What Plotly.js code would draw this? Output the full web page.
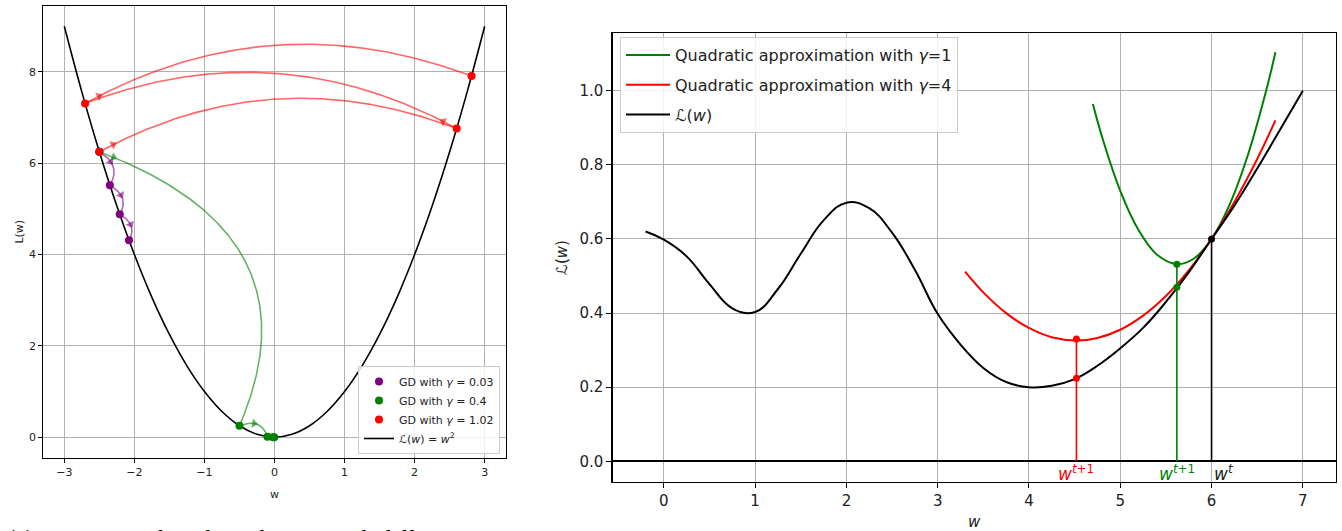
<!DOCTYPE html>
<html>
<head>
<meta charset="utf-8">
<script src="https://cdn.plot.ly/plotly-3.0.1.min.js"></script>
<style>
html,body{margin:0;padding:0;background:#fff;}
#chart{width:1342px;height:531px;}
</style>
</head>
<body>
<div id="chart"></div>
<script>
// ===================== DATA =====================
// Left panel: L(w) = w^2 curve
const parabolaW = [-3,-2.75,-2.5,-2.25,-2,-1.75,-1.5,-1.25,-1,-0.75,-0.5,-0.25,0,0.25,0.5,0.75,1,1.25,1.5,1.75,2,2.25,2.5,2.75,3];
const parabolaL = [9,7.5625,6.25,5.0625,4,3.0625,2.25,1.5625,1,0.5625,0.25,0.0625,0,0.0625,0.25,0.5625,1,1.5625,2.25,3.0625,4,5.0625,6.25,7.5625,9];

// Gradient-descent iterates
const gdSmallW = [-2.5,-2.35,-2.209,-2.077];
const gdSmallL = [6.25,5.52,4.88,4.31];
const gdMidW   = [-2.5,-0.5,-0.1,-0.02,-0.004];
const gdMidL   = [6.25,0.25,0.01,0.0004,0.00002];
const gdBigW   = [-2.5,2.6,-2.704,2.812];
const gdBigL   = [6.25,6.76,7.31,7.91];
const gdNames  = ['GD with <i>γ</i> = 0.03','GD with <i>γ</i> = 0.4','GD with <i>γ</i> = 1.02'];
const leftTicksX = [-3,-2,-1,0,1,2,3];
const leftTicksY = [0,2,4,6,8];

// Right panel: loss curve L(w)
const lossW = [-0.2,0,0.25,0.5,0.75,1.0,1.25,1.5,1.75,2.0,2.25,2.5,2.75,3.0,3.25,3.5,3.75,4.0,4.25,4.5,4.75,5.0,5.25,5.5,5.75,6.0,6.25,6.5,6.75,7.0];
const lossL = [0.62,0.598,0.553,0.478,0.413,0.403,0.465,0.56,0.65,0.698,0.683,0.617,0.517,0.398,0.315,0.252,0.214,0.200,0.204,0.222,0.258,0.305,0.36,0.43,0.51,0.60,0.69,0.79,0.895,1.0];
// Quadratic approximation, gamma = 1
const quad1W = [4.7,4.8,5.0,5.2,5.4,5.62,5.8,6.0,6.2,6.4,6.6,6.7];
const quad1L = [0.964,0.876,0.73,0.624,0.558,0.532,0.546,0.60,0.694,0.828,1.002,1.104];
// Quadratic approximation, gamma = 4
const quad4W = [3.3,3.5,3.75,4.0,4.25,4.52,4.75,5.0,5.25,5.5,5.75,6.0,6.25,6.5,6.7];
const quad4L = [0.512,0.456,0.40,0.36,0.335,0.326,0.333,0.355,0.393,0.446,0.515,0.60,0.70,0.816,0.92];
// Step markers: w^{t+1} (gamma=4), w^{t+1} (gamma=1), w^t
const stepW = [4.52,5.62,6.0];
const stepQ = [0.33,0.532,0.6];
const stepL = [0.224,0.47,0.6];
const stepText = ['<i>w</i><sup><i>t</i>+1</sup>','<i>w</i><sup><i>t</i>+1</sup>','<i>w</i><sup><i>t</i></sup>'];
const rightNames = ['Quadratic approximation with <i>γ</i>=1','Quadratic approximation with <i>γ</i>=4','<i>ℒ</i>(<i>w</i>)'];
const rightTicksX = [0,1,2,3,4,5,6,7];
const rightTicksY = [0,0.2,0.4,0.6,0.8,1.0];
const captionText = '(a)  Iterations of gradient descent with different';

// ===================== LAYOUT GEOMETRY =====================
const W = 1342, H = 531;
const boxL = {x0:43.3, x1:505.7, y0:5.7, y1:457.7};
const boxR = {x0:612.7, x1:1335.7, y0:33.3, y1:481.7};
const rLx = [-3.3,3.3], rLy = [-0.45,9.45];
const rRx = [-0.56,7.36], rRy = [-0.055,1.155];
const sxL = (boxL.x1-boxL.x0)/(rLx[1]-rLx[0]);
const syL = (boxL.y1-boxL.y0)/(rLy[1]-rLy[0]);

const RED='#ff0000', GREEN='#008000', PURPLE='#800080';
const REDA='rgba(255,0,0,0.6)', GREENA='rgba(0,128,0,0.6)', PURPLEA='rgba(128,0,128,0.6)';
const FONT='DejaVu Sans, Liberation Sans, sans-serif';

// curved arrow (quadratic Bezier in pixel space), bulging upward
function arcPath(w0,l0,w1,l1,rad,shift){
  const p0=[w0*sxL,l0*syL], p2=[w1*sxL,l1*syL];
  const dx=p2[0]-p0[0], dy=p2[1]-p0[1], d=Math.hypot(dx,dy);
  let nx=dy/d, ny=-dx/d;
  if(ny<0){nx=-nx;ny=-ny;}
  const ux=dx/d, uy=dy/d;
  const c=[(p0[0]+p2[0])/2+rad*d*nx+shift*d*ux,(p0[1]+p2[1])/2+rad*d*ny+shift*d*uy];
  const N=400, pts=[];
  for(let i=0;i<=N;i++){
    const t=i/N,a=(1-t)*(1-t),b=2*t*(1-t),e=t*t;
    pts.push([a*p0[0]+b*c[0]+e*p2[0], a*p0[1]+b*c[1]+e*p2[1]]);
  }
  const cum=[0];
  for(let i=1;i<=N;i++) cum.push(cum[i-1]+Math.hypot(pts[i][0]-pts[i-1][0],pts[i][1]-pts[i-1][1]));
  const len=cum[N];
  const idx=(s)=>{let i=0;while(i<N&&cum[i]<s)i++;return i;};
  const hs=Math.min(15,len*0.5);
  const i1=idx(hs), i0=Math.max(0,i1-3), i2=Math.min(N,i1+3);
  const tx=pts[i2][0]-pts[i0][0], ty=pts[i2][1]-pts[i0][1];
  return {x:pts.map(p=>p[0]/sxL), y:pts.map(p=>p[1]/syL), len:len,
          hx:pts[i1][0]/sxL, hy:pts[i1][1]/syL, angle:Math.atan2(tx,ty)*180/Math.PI};
}

const traces=[], annotations=[];

// Left: parabola
traces.push({x:parabolaW,y:parabolaL,type:'scatter',mode:'lines',line:{color:'#000',width:1.6,shape:'spline',simplify:false},
  name:'<i>ℒ</i>(<i>w</i>) = <i>w</i><sup>2</sup>',legend:'legend',legendrank:4,xaxis:'x',yaxis:'y'});

const gdSets=[[gdSmallW,gdSmallL,PURPLE,PURPLEA,0.5,0.07],[gdMidW,gdMidL,GREEN,GREENA,0.52,0.07],[gdBigW,gdBigL,RED,REDA,0.23,0]];
gdSets.forEach((s)=>{
  const [ws,ls,col,cola,rad,shift]=s;
  const hx=[],hy=[],ha=[];
  for(let i=0;i<ws.length-1;i++){
    const a=arcPath(ws[i],ls[i],ws[i+1],ls[i+1],rad,shift);
    traces.push({x:a.x,y:a.y,type:'scatter',mode:'lines',line:{color:cola,width:1.6},showlegend:false,hoverinfo:'skip',xaxis:'x',yaxis:'y'});
    if(a.len>12){hx.push(a.hx);hy.push(a.hy);ha.push(a.angle);}
  }
  traces.push({x:hx,y:hy,type:'scatter',mode:'markers',marker:{symbol:'triangle-up',size:8,angle:ha,color:cola,line:{width:0}},
    showlegend:false,hoverinfo:'skip',xaxis:'x',yaxis:'y'});
});
gdSets.forEach((s,k)=>{
  traces.push({x:s[0],y:s[1],type:'scatter',mode:'markers',marker:{color:s[2],size:8},
    name:gdNames[k],legend:'legend',legendrank:k+1,xaxis:'x',yaxis:'y'});
});

// Right panel
traces.push({x:quad1W,y:quad1L,type:'scatter',mode:'lines',line:{color:GREEN,width:2,shape:'spline',simplify:false},
  name:rightNames[0],legend:'legend2',legendgroup:'g1',legendrank:1,xaxis:'x2',yaxis:'y2'});
traces.push({x:quad4W,y:quad4L,type:'scatter',mode:'lines',line:{color:RED,width:2,shape:'spline',simplify:false},
  name:rightNames[1],legend:'legend2',legendgroup:'g2',legendrank:2,xaxis:'x2',yaxis:'y2'});
traces.push({x:lossW,y:lossL,type:'scatter',mode:'lines',line:{color:'#000',width:2,shape:'spline',smoothing:1.2,simplify:false},
  name:rightNames[2],legend:'legend2',legendgroup:'g3',legendrank:3,xaxis:'x2',yaxis:'y2'});
const stepCols=[RED,GREEN,'#000'];
stepW.forEach((w,i)=>{
  traces.push({x:[w,w],y:[0,stepQ[i]],type:'scatter',mode:'lines',line:{color:stepCols[i],width:1.6},
    showlegend:false,hoverinfo:'skip',xaxis:'x2',yaxis:'y2'});
});
traces.push({x:stepW,y:stepQ,type:'scatter',mode:'markers',marker:{color:stepCols,size:7},showlegend:false,xaxis:'x2',yaxis:'y2'});
traces.push({x:stepW.slice(0,2),y:stepL.slice(0,2),type:'scatter',mode:'markers',marker:{color:stepCols.slice(0,2),size:7},showlegend:false,xaxis:'x2',yaxis:'y2'});

stepW.forEach((w,i)=>{
  annotations.push({xref:'x2',yref:'y2',x:w,y:-0.031,text:stepText[i],showarrow:false,
    xanchor:i===2?'left':'center',yanchor:'middle',font:{family:FONT,size:17,color:i===2?'#222':stepCols[i]}});
});

// caption fragment at the bottom (clipped by the page edge, as in the reference)
annotations.push({xref:'paper',yref:'paper',x:5/W,y:1-537.5/H,xanchor:'left',yanchor:'middle',showarrow:false,
  text:captionText,font:{family:'Liberation Serif, DejaVu Serif, serif',size:24,color:'#000'}});

const axBase={showline:true,mirror:true,linecolor:'#000',ticks:'outside',tickcolor:'#000',
  showgrid:true,gridcolor:'#b0b0b0',gridwidth:1,zeroline:false,fixedrange:true};

const layout={
  width:W,height:H,margin:{l:0,r:0,t:0,b:0},paper_bgcolor:'#fff',plot_bgcolor:'#fff',
  font:{family:FONT,color:'#222'},
  showlegend:true,
  xaxis:Object.assign({},axBase,{domain:[boxL.x0/W,boxL.x1/W],range:rLx,anchor:'y',linewidth:1,ticklen:4,
    tickvals:leftTicksX,tickfont:{size:11},title:{text:'w',font:{size:11},standoff:12}}),
  yaxis:Object.assign({},axBase,{domain:[1-boxL.y1/H,1-boxL.y0/H],range:rLy,anchor:'x',linewidth:1,ticklen:4,
    tickvals:leftTicksY,tickfont:{size:11},title:{text:'L(w)',font:{size:11},standoff:3}}),
  xaxis2:Object.assign({},axBase,{domain:[boxR.x0/W,boxR.x1/W],range:rRx,anchor:'y2',linewidth:1.4,ticklen:5,
    tickvals:rightTicksX,tickfont:{size:15},title:{text:'<i>w</i>',font:{size:15},standoff:11}}),
  yaxis2:Object.assign({},axBase,{domain:[1-boxR.y1/H,1-boxR.y0/H],range:rRy,anchor:'x2',linewidth:1.4,ticklen:5,
    tickvals:rightTicksY,tickformat:'.1f',tickfont:{size:15},zeroline:true,zerolinecolor:'#000',zerolinewidth:2,
    title:{text:'<i>ℒ</i>(<i>w</i>)',font:{size:15},standoff:8}}),
  legend:{xref:'paper',yref:'paper',x:500/W,y:1-454/H,xanchor:'right',yanchor:'bottom',
    bgcolor:'rgba(255,255,255,0.85)',bordercolor:'#cccccc',borderwidth:1,font:{size:11,color:'#222'},
    traceorder:'normal',itemwidth:30,tracegroupgap:0},
  legend2:{xref:'paper',yref:'paper',x:620/W,y:1-37/H,xanchor:'left',yanchor:'top',
    bgcolor:'rgba(255,255,255,0.85)',bordercolor:'#cccccc',borderwidth:1,font:{size:16,color:'#222'},
    traceorder:'grouped',itemwidth:44,tracegroupgap:6},
  annotations:annotations
};

Plotly.newPlot('chart',traces,layout,{staticPlot:true,displayModeBar:false});
</script>
</body>
</html>
